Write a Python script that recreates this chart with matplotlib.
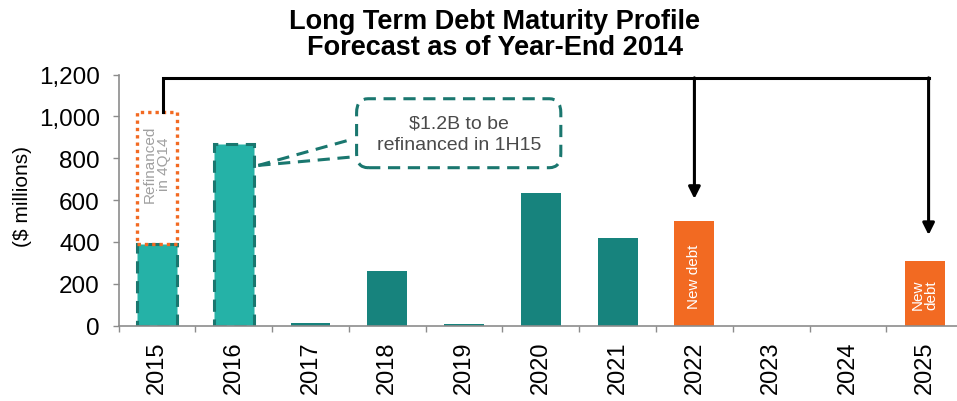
import matplotlib
matplotlib.use("Agg")
from matplotlib import pyplot as plt
from matplotlib.patches import FancyBboxPatch, Rectangle
import numpy as np

plt.rcParams['font.family'] = ['Liberation Sans', 'DejaVu Sans']

years = ["2015", "2016", "2017", "2018", "2019", "2020",
         "2021", "2022", "2023", "2024", "2025"]
maturities = [390, 870, 10, 260, 5, 635, 420, 500, 0, 0, 310]
refinanced_4q14 = 630  # stacked on top of the 2015 bar
bar_kind = ["refi", "refi", "old", "old", "old", "old",
            "old", "new", "old", "old", "new"]

LIGHT_TEAL = "#25b2a7"
DARK_TEAL = "#17837d"
EDGE_TEAL = "#1a776f"
ORANGE = "#f26a22"
GRAY = "#8c8c8c"

fig = plt.figure(figsize=(9.57, 4.02), dpi=100)
ax = fig.add_axes([0.1239, 0.1878, 0.8761, 0.6239])

x = np.arange(len(years))
width = 0.52
colors = {"refi": LIGHT_TEAL, "old": DARK_TEAL, "new": ORANGE}
for i, (v, k) in enumerate(zip(maturities, bar_kind)):
    if k == "refi":
        ax.bar(i, v, width, color=LIGHT_TEAL, edgecolor=EDGE_TEAL,
               linewidth=2.2, linestyle=(0, (4, 2.5)), zorder=2)
    else:
        ax.bar(i, v, width, color=colors[k], linewidth=0, zorder=2)

# dotted outline for the amount already refinanced in 4Q14
ax.add_patch(Rectangle((x[0] - width / 2, maturities[0]), width, refinanced_4q14,
                       fill=False, edgecolor=ORANGE, linewidth=2.4,
                       linestyle=(0, (1, 1.2)), zorder=3))
ax.text(x[0], maturities[0] + refinanced_4q14 / 2 + 70, "Refinanced\nin 4Q14",
        rotation=90, ha="center", va="center", fontsize=11, color="#a0a0a0",
        linespacing=0.95, zorder=4)

# labels inside the new-debt bars
ax.text(x[7], 237, "New debt", rotation=90, ha="center", va="center",
        fontsize=11, color="white", zorder=4)
ax.text(x[10], 150, "New\ndebt", rotation=90, ha="center", va="center",
        fontsize=11, color="white", linespacing=0.95, zorder=4)

# callout for the 2016 maturities
box = FancyBboxPatch((2.6, 755), 2.66, 330,
                     boxstyle="round,pad=0,rounding_size=0.15",
                     mutation_aspect=450 / 1.0,
                     fill=False, edgecolor=EDGE_TEAL, linewidth=2.2,
                     linestyle=(0, (4, 2.5)), zorder=3)
ax.add_patch(box)
ax.plot([1.32, 2.56], [766, 893], color=EDGE_TEAL, lw=2.2,
        linestyle=(0, (4, 2.5)), zorder=3)
ax.plot([1.32, 2.56], [766, 807], color=EDGE_TEAL, lw=2.2,
        linestyle=(0, (4, 2.5)), zorder=3)
ax.text(3.93, 918, "$1.2B to be\nrefinanced in 1H15", ha="center", va="center",
        fontsize=14, color="#4a4a4a", linespacing=1.4, zorder=4)

# bracket arrows from the refinanced amount to the new debt
arrow_y = 1185
ax.plot([0.08, 0.08, 10.05], [1022, arrow_y, arrow_y], color="black", lw=2.2,
        solid_joinstyle="miter", clip_on=False, zorder=5)
for ax_x, tip in [(7.0, 606), (10.05, 433)]:
    ax.annotate("", xy=(ax_x, tip), xytext=(ax_x, arrow_y),
                arrowprops=dict(arrowstyle="-|>,head_length=0.7,head_width=0.35",
                                color="black", lw=2.2, shrinkA=0, shrinkB=0),
                annotation_clip=False, zorder=5)

ax.set_xlim(-0.5, 10.42)
ax.set_ylim(0, 1200)
ax.set_yticks(np.arange(0, 1201, 200))
ax.set_yticklabels([f"{v:,}" for v in range(0, 1201, 200)])
ax.set_xticks(x)
ax.set_xticklabels(years, rotation=90)
ax.set_xticks(np.arange(-0.5, 10.5, 1), minor=True)
ax.tick_params(axis="x", which="major", length=0, pad=11, labelsize=17)
ax.tick_params(axis="x", which="minor", length=4.5, color=GRAY, width=1)
ax.tick_params(axis="y", length=4.5, color=GRAY, width=1, pad=9, labelsize=17.5)

for s in ["top", "right"]:
    ax.spines[s].set_visible(False)
for s in ["left", "bottom"]:
    ax.spines[s].set_color(GRAY)
    ax.spines[s].set_linewidth(1.2)

fig.text(0.023, 0.51, "($ millions)", rotation=90, ha="center", va="center",
         fontsize=15)
fig.text(0.517, 0.913, "Long Term Debt Maturity Profile\nForecast as of Year-End 2014",
         ha="center", va="center", fontsize=19.5, fontweight="bold", linespacing=1.0)

fig.savefig("out.png", dpi=100)
